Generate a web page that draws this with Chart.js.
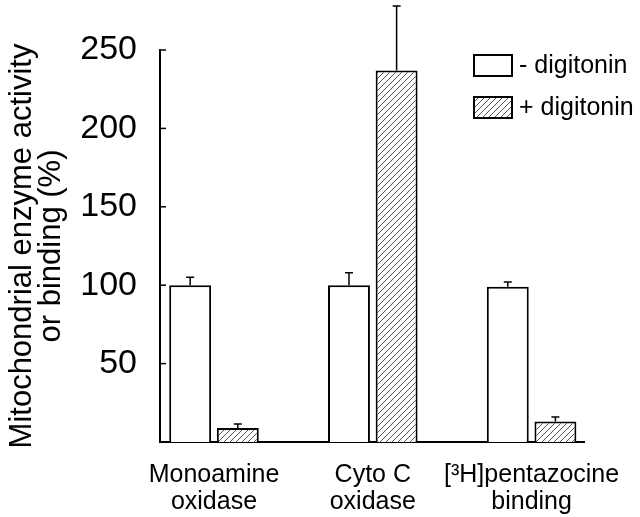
<!DOCTYPE html>
<html>
<head>
<meta charset="utf-8">
<script src="https://cdn.jsdelivr.net/npm/chart.js@4/dist/chart.umd.min.js"></script>
<style>
  html, body { margin: 0; padding: 0; background: #fff; }
  #wrap { width: 640px; height: 517px; }
</style>
</head>
<body>
<div id="wrap"><canvas id="chart" width="640" height="517"></canvas></div>
<script>
'use strict';

// categories sit at x = 1, 2, 3 on a linear axis
const categories = [['Monoamine', 'oxidase'], ['Cyto C', 'oxidase'], ['[³H]pentazocine', 'binding']];
const seriesLabels = ['- digitonin', '+ digitonin'];
const minusDigitonin = [100, 100, 99];
const minusDigitoninErr = [105, 108, 102];
const plusDigitonin = [9, 237, 13];
const plusDigitoninErr = [11.5, 278, 16];
const yTicks = [50, 100, 150, 200, 250];

const FONT = 'Liberation Sans, Arial, Helvetica, sans-serif';

function hatchPattern() {
  const c = document.createElement('canvas');
  c.width = 6; c.height = 6;
  const g = c.getContext('2d');
  g.fillStyle = '#fff';
  g.fillRect(0, 0, 6, 6);
  g.strokeStyle = '#555';
  g.lineWidth = 1;
  g.beginPath();
  g.moveTo(-1, 7); g.lineTo(7, -1);
  g.moveTo(-1, 1); g.lineTo(1, -1);
  g.moveTo(5, 7); g.lineTo(7, 5);
  g.stroke();
  return g.createPattern(c, 'repeat');
}

const hatch = hatchPattern();
const toPoints = vals => vals.map((v, i) => ({ x: i + 1, y: v }));

const errorBars = {
  id: 'errorBars',
  afterDatasetsDraw(chart) {
    const { ctx } = chart;
    const y = chart.scales.y;
    const errs = [minusDigitoninErr, plusDigitoninErr];
    ctx.save();
    ctx.strokeStyle = '#000';
    ctx.lineWidth = 1.5;
    chart.data.datasets.forEach((ds, di) => {
      chart.getDatasetMeta(di).data.forEach((bar, i) => {
        const top = y.getPixelForValue(errs[di][i]);
        ctx.beginPath();
        ctx.moveTo(bar.x, bar.y);
        ctx.lineTo(bar.x, top);
        ctx.moveTo(bar.x - 4, top);
        ctx.lineTo(bar.x + 4, top);
        ctx.stroke();
      });
    });
    ctx.restore();
  }
};

// small tick marks on the inner side of the y axis
const innerTicks = {
  id: 'innerTicks',
  afterDraw(chart) {
    const { ctx, chartArea } = chart;
    const y = chart.scales.y;
    ctx.save();
    ctx.strokeStyle = '#000';
    ctx.lineWidth = 1.5;
    yTicks.forEach(v => {
      const py = y.getPixelForValue(v);
      ctx.beginPath();
      ctx.moveTo(chartArea.left, py);
      ctx.lineTo(chartArea.left + 6, py);
      ctx.stroke();
    });
    ctx.restore();
  }
};

const boxLegend = {
  id: 'boxLegend',
  afterDraw(chart) {
    const { ctx, chartArea } = chart;
    ctx.save();
    ctx.font = '25px ' + FONT;
    ctx.textBaseline = 'middle';
    chart.data.datasets.forEach((ds, i) => {
      const x = chartArea.right - 110;
      const yy = chartArea.top + 5 + i * 42;
      ctx.fillStyle = ds.backgroundColor;
      ctx.fillRect(x, yy, 38, 21);
      ctx.strokeStyle = '#000';
      ctx.lineWidth = 2;
      ctx.strokeRect(x, yy, 38, 21);
      ctx.fillStyle = '#000';
      ctx.fillText(ds.label, x + 45, yy + 11);
    });
    ctx.restore();
  }
};

new Chart(document.getElementById('chart'), {
  type: 'bar',
  data: {
    datasets: [
      {
        label: seriesLabels[0],
        data: toPoints(minusDigitonin),
        backgroundColor: '#fff',
        borderColor: '#000',
        borderWidth: 2,
      },
      {
        label: seriesLabels[1],
        data: toPoints(plusDigitonin),
        backgroundColor: hatch,
        borderColor: '#000',
        borderWidth: 2,
      },
    ],
  },
  options: {
    responsive: false,
    animation: false,
    categoryPercentage: 0.6,
    barPercentage: 0.88,
    layout: { padding: { left: 8, right: 56, top: 50, bottom: 0 } },
    plugins: {
      legend: { display: false },
      tooltip: { enabled: false },
    },
    scales: {
      x: {
        type: 'linear',
        min: 0.66,
        max: 3.33,
        offset: false,
        grid: { display: false },
        border: { display: true, color: '#000', width: 2 },
        afterBuildTicks: scale => { scale.ticks = categories.map((c, i) => ({ value: i + 1 })); },
        afterFit: scale => { scale.height = 75; },
        ticks: {
          color: '#000',
          font: { family: FONT, size: 25, lineHeight: 1.1 },
          padding: 11,
          maxRotation: 0,
          autoSkip: false,
          callback: v => categories[v - 1],
        },
      },
      y: {
        min: 0,
        max: 250,
        grid: { display: false },
        border: { display: true, color: '#000', width: 2 },
        afterBuildTicks: scale => { scale.ticks = yTicks.map(v => ({ value: v })); },
        afterFit: scale => { scale.width = 152; },
        ticks: {
          color: '#000',
          font: { family: FONT, size: 34 },
          padding: 15,
        },
        title: {
          display: true,
          text: ['Mitochondrial enzyme activity', 'or binding (%)'],
          color: '#000',
          font: { family: FONT, size: 31, lineHeight: 0.93 },
          padding: { top: 0, bottom: 0 },
        },
      },
    },
  },
  plugins: [errorBars, innerTicks, boxLegend],
});
</script>
</body>
</html>
